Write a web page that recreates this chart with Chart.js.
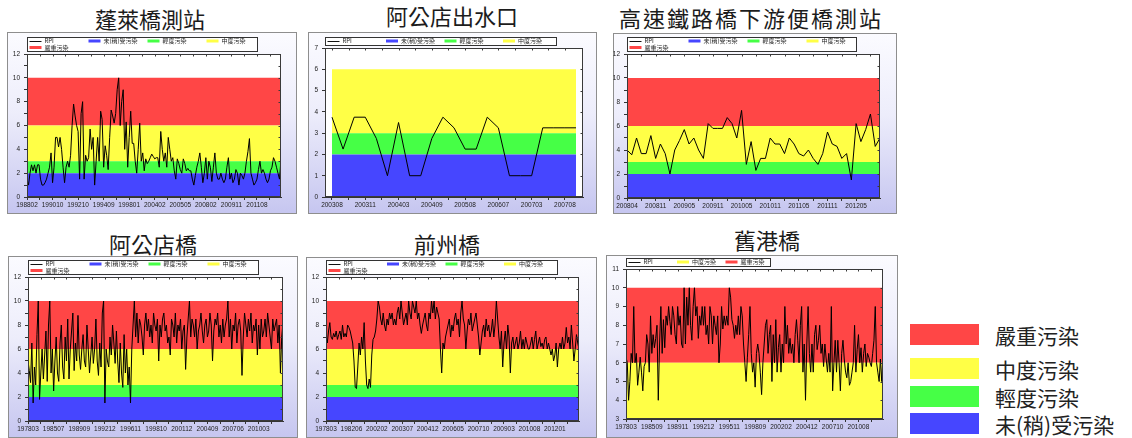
<!DOCTYPE html>
<html lang="zh-Hant">
<head>
<meta charset="utf-8">
<title>河川污染指數 RPI 測站趨勢</title>
<script src="https://cdn.jsdelivr.net/npm/chart.js@4.4.1/dist/chart.umd.min.js"></script>
<style>
  html, body { margin: 0; padding: 0; background: #fff; }
  body { position: relative; width: 1132px; height: 438px; overflow: hidden;
         font-family: "Noto Sans CJK TC", "Noto Sans CJK SC", sans-serif; }
  .title { position: absolute; transform: translate(-50%, -50%); font-size: 22px;
           line-height: 1; color: #1c1c1c; white-space: nowrap; }
  .frame { position: absolute; box-sizing: border-box; border: 1px solid #8e8e8e;
           background: linear-gradient(to bottom, #fbfbff 0%, #ededfb 45%, #c6c6f0 100%); }
  .frame canvas { position: absolute; left: -1px; top: -1px; }
  .swatch { position: absolute; width: 69px; height: 21px; }
  .keytext { position: absolute; font-size: 21px; line-height: 1; color: #222;
             transform: translateY(-50%); white-space: nowrap; }
</style>
</head>
<body>
<script>
// RPI 污染等級與門檻
const levelNames  = ['未(稍)受污染', '輕度污染', '中度污染', '嚴重污染'];
const levelLower  = [0, 2, 3, 6];
const levelUpper  = [2, 3, 6, 10];
const levelColors = ['#4646ff', '#46ff46', '#ffff46', '#ff4646'];
const seriesName  = 'RPI';

// 蓬萊橋測站
const penglaiTicks = ['198802','199010','199210','199409','199801','200402','200505','200802','200911','201108'];
const penglaiRpi = [
  1.5,1.0,2.0,2.7,2.2,2.7,2.0,2.7,2.7,1.5,
  1.0,1.0,1.2,1.5,2.0,2.5,3.7,1.2,2.5,5.0,
  5.0,4.2,5.0,4.0,2.5,1.2,2.5,3.0,2.5,3.5,
  6.0,7.8,6.8,6.0,5.5,1.5,7.0,8.0,1.5,3.5,
  3.0,3.3,5.7,4.0,5.0,1.0,3.0,5.0,3.0,7.2,
  6.5,2.5,4.3,3.5,2.3,5.0,7.3,6.8,6.2,7.0,
  9.0,10.0,6.0,8.0,9.0,4.0,6.3,2.5,5.0,7.2,
  4.5,4.5,3.0,2.0,4.0,6.2,3.0,3.7,2.2,3.2,
  2.8,3.0,3.3,3.6,3.4,3.2,3.3,3.3,2.5,5.5,
  4.0,3.0,3.7,2.5,5.0,4.0,3.0,3.3,2.2,1.5,
  3.2,2.8,2.3,2.0,3.2,2.8,2.2,2.4,2.2,2.2,
  1.5,1.0,1.8,2.5,3.0,3.7,2.5,1.2,2.0,3.3,
  1.5,3.0,2.5,1.3,2.5,3.7,2.0,1.5,1.5,2.0,
  1.5,1.2,1.5,2.5,3.3,1.5,2.0,1.2,1.5,2.3,
  2.0,1.0,2.0,1.8,1.5,2.0,3.0,3.8,4.9,2.0,
  1.5,1.0,1.2,1.5,2.3,3.0,2.0,2.3,2.0,1.5,
  1.2,1.5,2.2,2.5,3.3,3.0,2.5,2.0,1.5,3.2
];

// 阿公店出水口
const outletTicks = ['200308','200311','200403','200409','200508','200607','200703','200708'];
const outletRpi = [3.75,2.25,3.75,3.75,2.75,1,3.5,1,1,2.75,3.75,3.25,2.25,2.25,3.75,3.25,1,1,1,3.25,3.25,3.25,3.25];

// 高速鐵路橋下游便橋測站
const hsrTicks = ['200804','200811','200905','200911','201005','201011','201105','201111','201205'];
const hsrRpi = [
  4.0,3.6,5.0,3.7,3.7,5.2,3.3,4.5,3.7,2.0,
  4.0,4.8,5.7,4.5,5.0,4.0,3.3,6.2,5.8,5.8,
  5.8,6.7,6.2,5.0,7.3,2.8,4.7,2.3,3.3,3.3,
  5.0,4.5,4.5,3.7,5.0,4.5,3.7,3.5,4.0,3.3,
  2.8,3.7,5.5,4.5,4.3,3.3,3.7,1.5,6.2,4.7,
  5.7,7.0,4.3,5.0
];

// 阿公店橋
const agongTicks = ['197803','198507','198909','199212','199611','199810','200112','200409','200706','201003'];
const agongRpi = [
  5.0,4.2,3.2,6.5,1.5,4.5,3.0,7.2,10.0,1.8,
  4.0,6.0,3.5,5.5,7.5,3.3,8.0,10.0,4.0,6.0,
  2.5,5.0,7.0,4.0,3.3,6.5,8.0,4.5,3.5,7.0,
  5.0,8.5,3.5,6.0,7.5,9.0,4.2,6.5,5.0,8.8,
  5.5,4.3,6.0,7.2,5.0,4.5,8.0,6.0,4.0,5.5,
  7.0,4.8,6.0,8.5,5.0,3.8,6.5,4.5,9.0,10.0,
  1.5,6.0,5.0,4.5,7.0,5.5,8.0,6.5,4.8,7.5,
  5.0,3.2,6.5,4.0,2.8,7.2,4.0,6.0,3.0,4.5,
  1.5,6.0,8.0,10.0,7.0,9.0,6.5,8.5,8.0,7.0,
  5.5,8.0,9.0,7.5,8.5,7.0,8.0,6.5,9.0,8.0,
  7.5,8.5,5.0,8.0,7.0,8.5,9.0,7.5,8.0,6.5,
  7.0,5.5,8.5,8.0,7.0,9.0,6.5,8.0,7.5,8.5,
  6.0,7.5,8.0,4.3,7.0,8.5,10.0,7.0,8.5,8.0,
  7.0,8.5,6.0,7.5,8.0,9.0,7.5,6.5,8.0,8.5,
  7.0,7.5,9.0,8.0,5.0,7.5,8.5,8.0,9.0,7.0,
  8.0,6.5,8.5,7.0,8.0,8.5,10.0,7.0,8.5,6.0,
  8.0,7.5,9.0,6.5,8.0,8.5,7.5,3.8,7.0,9.0,
  8.0,7.0,8.5,7.5,9.0,6.5,8.0,7.5,8.5,5.5,
  8.0,6.0,8.5,7.0,7.5,8.5,7.0,9.0,8.0,7.0,
  6.0,8.5,7.5,8.0,8.5,6.5,8.0,4.0,7.0,8.2
];

// 前州橋
const qianzhouTicks = ['197803','198206','200202','200307','200412','200605','200710','200903','201008','201201'];
const qianzhouRpi = [
  7.0,6.5,7.5,8.2,7.0,6.8,7.3,7.0,7.5,6.8,
  7.2,7.5,6.8,8.0,7.0,7.3,7.0,8.0,7.8,7.5,
  7.0,6.5,5.0,2.8,2.7,4.5,6.5,5.5,7.0,6.0,
  8.2,5.0,3.0,2.7,3.5,2.8,5.5,6.8,7.0,7.5,
  8.5,10.0,9.5,8.5,8.0,9.0,8.0,7.5,8.5,8.0,
  9.0,8.5,9.0,8.0,8.5,8.0,9.0,9.5,8.5,10.0,
  9.0,8.0,8.5,9.0,8.0,10.0,9.0,8.5,10.0,9.5,
  9.0,10.0,8.5,9.0,8.0,7.3,8.0,8.5,9.0,8.0,
  7.5,9.0,8.5,10.0,9.0,10.0,8.5,9.5,9.0,8.5,
  6.0,4.0,6.5,6.0,7.0,7.5,8.0,8.5,7.0,8.0,
  7.5,8.5,9.0,8.0,8.5,7.0,9.0,10.0,8.5,8.0,
  6.0,7.5,8.5,8.0,9.0,7.5,8.0,8.5,9.0,8.0,
  7.0,5.5,6.5,7.5,8.0,7.0,8.5,7.5,8.0,7.0,
  7.5,8.5,7.0,8.0,10.0,8.5,7.0,6.0,7.5,4.5,
  6.5,7.5,6.0,8.0,7.0,4.0,6.5,7.0,6.0,6.5,
  7.0,6.0,6.5,7.5,6.0,6.8,6.0,7.0,6.5,6.0,
  6.0,6.5,7.0,6.0,6.8,7.5,6.0,6.5,7.0,6.2,
  6.5,6.0,6.8,7.0,6.0,6.5,6.0,5.5,6.0,5.0,
  5.5,6.5,4.5,6.0,6.5,6.0,7.0,6.0,6.5,7.8,
  6.5,7.0,6.0,8.0,6.5,5.0,6.0,7.2,6.5,6.0
];

// 舊港橋
const jiugangTicks = ['197803','198509','198911','199212','199511','199809','200202','200412','200710','201008'];
const jiugangRpi = [
  6.3,6.0,4.0,5.0,6.5,6.0,9.0,6.0,6.5,4.8,
  5.5,6.3,5.5,4.5,5.8,6.0,7.5,7.0,5.5,8.5,
  6.5,7.5,6.8,7.3,8.0,4.0,7.0,9.0,6.5,8.3,
  6.8,8.5,8.0,9.0,8.2,7.5,9.0,8.5,7.5,7.0,
  9.0,8.0,8.5,7.0,6.8,10.0,7.0,9.5,8.0,10.0,
  8.0,7.2,9.0,10.0,8.5,9.0,7.3,8.5,8.0,9.0,
  8.0,9.0,7.5,8.0,7.0,9.0,8.5,7.0,8.5,8.0,
  7.5,8.5,6.0,7.0,9.0,7.8,8.5,8.0,8.5,8.0,
  10.0,9.5,8.3,8.0,7.3,8.0,7.5,8.5,7.5,9.0,
  8.5,7.0,6.0,5.0,6.3,7.5,9.0,6.5,5.5,6.0,
  4.7,6.5,7.0,6.5,5.5,4.3,6.0,7.0,8.0,8.3,
  6.5,7.5,8.0,5.0,7.5,6.0,8.3,5.5,6.8,7.5,
  5.5,7.0,6.0,9.0,7.0,8.0,6.5,7.3,6.5,7.0,
  6.0,7.5,8.3,7.2,6.0,8.0,9.0,5.5,7.0,4.0,
  7.0,9.0,6.5,5.5,7.0,5.5,7.5,8.0,6.7,7.2,
  8.0,6.5,7.0,5.8,7.0,6.2,5.5,6.5,5.5,9.0,
  4.5,6.0,7.2,5.5,7.2,6.0,4.5,6.5,7.2,6.2,
  5.5,5.2,6.0,4.8,5.0,5.5,6.0,8.0,5.5,6.7,
  7.5,6.0,6.8,5.5,6.5,7.0,5.8,6.5,6.3,6.0,
  5.8,6.5,7.2,9.0,6.0,5.5,5.0,6.2,5.0,6.5
];

// 各測站：資料、刻度、y 軸範圍與出現的污染等級
const stations = [
  { key: 'penglai',  title: '蓬萊橋測站',             rpi: penglaiRpi,  ticks: penglaiTicks,  every: 17, yMin: 0, yMax: 12, yStep: 2, levels: [0,1,2,3] },
  { key: 'outlet',   title: '阿公店出水口',           rpi: outletRpi,   ticks: outletTicks,   every: 3,  yMin: 0, yMax: 7,  yStep: 1, levels: [0,1,2] },
  { key: 'hsr',      title: '高速鐵路橋下游便橋測站', rpi: hsrRpi,      ticks: hsrTicks,      every: 6,  yMin: 0, yMax: 12, yStep: 2, levels: [0,1,2,3] },
  { key: 'agong',    title: '阿公店橋',               rpi: agongRpi,    ticks: agongTicks,    every: 20, yMin: 0, yMax: 12, yStep: 2, levels: [0,1,2,3] },
  { key: 'qianzhou', title: '前州橋',                 rpi: qianzhouRpi, ticks: qianzhouTicks, every: 20, yMin: 0, yMax: 12, yStep: 2, levels: [0,1,2,3] },
  { key: 'jiugang',  title: '舊港橋',                 rpi: jiugangRpi,  ticks: jiugangTicks,  every: 20, yMin: 3, yMax: 11, yStep: 1, levels: [2,3] }
];

// 版面：外框 [left, top, width, height]、繪圖區 [left, top, right, bottom]（相對外框）
const layout = {
  penglai:  { frame: [7, 32, 290, 182],   area: [20, 22, 274, 165], title: [150, 18], pad: 0,    keyW: 230, keyStep: 59 },
  outlet:   { frame: [308, 32, 289, 182], area: [17, 16, 275, 165], title: [452, 15], pad: 0.63, keyW: 231, keyStep: 58.5 },
  hsr:      { frame: [613, 33, 284, 181], area: [14, 21, 267, 165], title: [751, 17], pad: 0,    keyW: 229, keyStep: 59, spacing: 2 },
  agong:    { frame: [8, 256, 290, 182],  area: [20, 21, 275, 165], title: [153, 243], pad: 0,   keyW: 230, keyStep: 59 },
  qianzhou: { frame: [306, 257, 291, 181], area: [20, 20, 273, 164], title: [447, 243], pad: 0,  keyW: 231, keyStep: 58.5 },
  jiugang:  { frame: [606, 255, 292, 183], area: [20, 14, 277, 164], title: [767, 239], pad: 0,  keyW: 144, keyStep: 48.5 }
};

// 右側圖例位置（色塊上緣）
const sideKeyTops = [324, 358, 386, 413];

// 繪圖區白底
const plotBackground = {
  id: 'plotBackground',
  beforeDraw(chart) {
    const { ctx, chartArea: a } = chart;
    ctx.save();
    ctx.fillStyle = '#ffffff';
    ctx.fillRect(a.left, a.top, a.right - a.left, a.bottom - a.top);
    ctx.restore();
  }
};

// 繪圖區外框與上、右邊的內向刻度
const areaFrame = {
  id: 'areaFrame',
  afterDraw(chart) {
    const { ctx, chartArea: a, scales } = chart;
    ctx.save();
    ctx.strokeStyle = '#3a3a3a';
    ctx.lineWidth = 1;
    ctx.strokeRect(Math.round(a.left) + 0.5, Math.round(a.top) + 0.5,
                   Math.round(a.right - a.left) - 1, Math.round(a.bottom - a.top) - 1);
    ctx.beginPath();
    scales.x.ticks.forEach(t => {
      const px = Math.round(scales.x.getPixelForValue(t.value)) + 0.5;
      ctx.moveTo(px, a.top); ctx.lineTo(px, a.top + 2.5);
    });
    scales.y.ticks.forEach(t => {
      const py = Math.round(scales.y.getPixelForValue(t.value)) + 0.5;
      ctx.moveTo(a.right, py); ctx.lineTo(a.right - 2.5, py);
    });
    ctx.stroke();
    ctx.restore();
  }
};

// 圖內小圖例框
const keyBox = {
  id: 'keyBox',
  afterDraw(chart, args, opts) {
    const items = opts.items;
    if (!items) return;
    const { ctx, chartArea: a } = chart;
    const rows = Math.ceil(items.length / 4);
    const h = rows === 1 ? 8 : 14;
    const x0 = Math.round(a.left) + 0.5;
    const y0 = Math.round(a.top) - 3 - h + 0.5;
    ctx.save();
    ctx.fillStyle = '#ffffff';
    ctx.fillRect(x0, y0, opts.width, h);
    ctx.strokeStyle = '#333333';
    ctx.lineWidth = 1;
    ctx.strokeRect(x0, y0, opts.width, h);
    ctx.font = '6px "Noto Sans CJK TC"';
    ctx.textBaseline = 'middle';
    items.forEach((it, i) => {
      const col = i % 4, row = Math.floor(i / 4);
      const x = x0 + 2 + col * opts.step;
      const y = y0 + 3.5 + row * 6.5;
      if (it.line) {
        ctx.strokeStyle = it.color;
        ctx.beginPath(); ctx.moveTo(x, Math.round(y) + 0.5); ctx.lineTo(x + 12, Math.round(y) + 0.5); ctx.stroke();
      } else {
        ctx.fillStyle = it.color;
        ctx.fillRect(x, y - 1.5, 12, 3);
      }
      ctx.fillStyle = '#222222';
      ctx.fillText(it.label, x + 15, y);
    });
    ctx.restore();
  }
};

const near = (a, b) => Math.abs(a - b) < 1e-6;

stations.forEach(st => {
  const lay = layout[st.key];
  const [fx, fy, fw, fh] = lay.frame;
  const [aL, aT, aR, aB] = lay.area;
  const n = st.rpi.length;

  const title = document.createElement('div');
  title.className = 'title';
  title.textContent = st.title;
  title.style.left = lay.title[0] + 'px';
  title.style.top = lay.title[1] + 'px';
  if (lay.spacing) title.style.letterSpacing = lay.spacing + 'px';
  document.body.appendChild(title);

  const frame = document.createElement('div');
  frame.className = 'frame';
  Object.assign(frame.style, { left: fx + 'px', top: fy + 'px', width: fw + 'px', height: fh + 'px' });
  const canvas = document.createElement('canvas');
  canvas.width = fw; canvas.height = fh;
  canvas.style.width = fw + 'px'; canvas.style.height = fh + 'px';
  frame.appendChild(canvas);
  document.body.appendChild(frame);

  // 污染等級色帶：自第一筆至最後一筆資料
  const bandSets = st.levels.map(lv => ({
    label: levelNames[lv],
    data: [{ x: 0, y: levelUpper[lv] }, { x: n - 1, y: levelUpper[lv] }],
    backgroundColor: levelColors[lv],
    borderWidth: 0,
    pointRadius: 0,
    fill: { value: levelLower[lv] },
    order: 2
  }));

  const lineSet = {
    label: seriesName,
    data: st.rpi.map((v, i) => ({ x: i, y: v })),
    borderColor: '#000000',
    borderWidth: 1,
    pointRadius: 0,
    tension: 0,
    fill: false,
    order: 0
  };

  const keyItems = [{ label: seriesName, color: '#111111', line: true }]
    .concat(st.levels.map(lv => ({ label: levelNames[lv], color: levelColors[lv] })));

  const tickFont = { family: 'Liberation Sans', size: 6.5 };
  const gridCfg = { drawOnChartArea: false, drawTicks: true, tickLength: 3, color: '#333333' };

  new Chart(canvas, {
    type: 'line',
    data: { datasets: [lineSet].concat(bandSets) },
    options: {
      responsive: false,
      animation: false,
      devicePixelRatio: 1,
      layout: { padding: { left: 0, top: aT, right: fw - aR, bottom: 0 } },
      plugins: {
        legend: { display: false },
        tooltip: { enabled: false },
        keyBox: { items: keyItems, width: lay.keyW, step: lay.keyStep }
      },
      scales: {
        x: {
          type: 'linear',
          min: -lay.pad,
          max: n - 1 + lay.pad,
          afterBuildTicks: s => {
            const t = [];
            for (let v = 0; v <= n - 1 + 1e-9; v += st.every / 2) t.push({ value: v });
            s.ticks = t;
          },
          afterFit: s => { s.height = fh - aB; },
          ticks: {
            autoSkip: false, maxRotation: 0, minRotation: 0, padding: 1,
            color: '#222222', font: tickFont,
            callback: v => {
              const k = v / st.every;
              return near(k, Math.round(k)) ? (st.ticks[Math.round(k)] || '') : '';
            }
          },
          grid: gridCfg,
          border: { display: true, color: '#333333' }
        },
        y: {
          type: 'linear',
          min: st.yMin,
          max: st.yMax,
          afterBuildTicks: s => {
            const t = [];
            for (let v = st.yMin; v <= st.yMax + 1e-9; v += st.yStep / 2) t.push({ value: v });
            s.ticks = t;
          },
          afterFit: s => { s.width = aL; },
          ticks: {
            padding: 4, color: '#222222', font: tickFont,
            callback: v => {
              const k = (v - st.yMin) / st.yStep;
              return near(k, Math.round(k)) ? String(Math.round(v)) : '';
            }
          },
          grid: gridCfg,
          border: { display: true, color: '#333333' }
        }
      }
    },
    plugins: [plotBackground, areaFrame, keyBox]
  });
});

// 右側污染等級圖例（由重到輕）
[3, 2, 1, 0].forEach((lv, i) => {
  const top = sideKeyTops[i];
  const sw = document.createElement('div');
  sw.className = 'swatch';
  sw.style.left = '910px';
  sw.style.top = top + 'px';
  sw.style.background = levelColors[lv];
  document.body.appendChild(sw);
  const tx = document.createElement('div');
  tx.className = 'keytext';
  tx.style.left = '995px';
  tx.style.top = (top + 10.5) + 'px';
  tx.textContent = levelNames[lv];
  document.body.appendChild(tx);
});
</script>
</body>
</html>
